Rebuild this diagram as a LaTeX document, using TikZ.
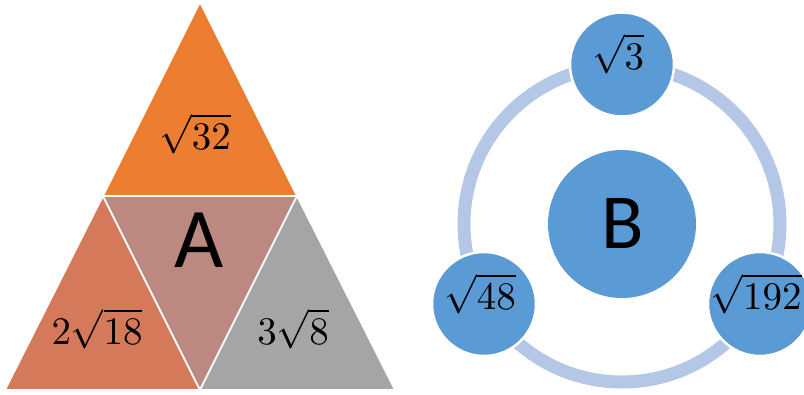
\documentclass[tikz,border=0pt]{standalone}
\usepackage{fontspec}
\newfontfamily\carlito{Carlito}
\definecolor{topor}{HTML}{ED7D31}
\definecolor{leftor}{HTML}{D47A5A}
\definecolor{midbr}{HTML}{BB8982}
\definecolor{rgray}{HTML}{A5A5A5}
\definecolor{cblue}{HTML}{5B9BD5}
\definecolor{ringblue}{HTML}{B4C7E7}
\tikzset{
  piece/.style={draw=white, line width=1.6pt, line join=miter},
  mlabel/.style={scale=3.9, inner sep=0pt},
  biglabel/.style={inner sep=0pt},
  smallcirc/.style={circle, fill=cblue, draw=white, line width=2.5pt, minimum size=104pt, inner sep=0pt},
  bigcirc/.style={circle, fill=cblue, minimum size=148pt, inner sep=0pt},
  ringstyle/.style={draw=ringblue, line width=13pt}
}
\begin{document}
\begin{tikzpicture}[x=1pt,y=-1pt]
\useasboundingbox (0,0) rectangle (804,394);
% triangle A
\coordinate (apex) at (200,2);
\coordinate (ml) at (103,196);
\coordinate (mr) at (297,196);
\coordinate (bl) at (5,390);
\coordinate (bm) at (200,390);
\coordinate (br) at (395,390);
\fill[topor, piece] (apex) -- (mr) -- (ml) -- cycle;
\fill[leftor, piece] (ml) -- (bm) -- (bl) -- cycle;
\fill[midbr, piece] (ml) -- (mr) -- (bm) -- cycle;
\fill[rgray, piece] (mr) -- (br) -- (bm) -- cycle;
\node[mlabel] (t32) at (195,134) {$\sqrt{32}$};
\node[mlabel] (t18) at (97,329) {$2\sqrt{18}$};
\node[mlabel] (t8) at (293,329) {$3\sqrt{8}$};
\node[biglabel, font=\carlito\fontsize{85}{85}\selectfont] (A) at (199,240) {A};
% ring B
\node[bigcirc] (B) at (622,224) {};
\draw[ringstyle] (B.center) circle[radius=158];
\node[smallcirc] (c3) at (622,64.5) {};
\node[smallcirc] (c48) at (484,304) {};
\node[smallcirc] (c192) at (760,304) {};
\node[biglabel, font=\carlito\fontsize{78}{78}\selectfont] (Bl) at (623,223) {B};
\node[mlabel] (l3) at (618,54) {$\sqrt{3}$};
\node[mlabel] (l48) at (480,294) {$\sqrt{48}$};
\node[mlabel] (l192) at (756,294) {$\sqrt{192}$};
\end{tikzpicture}
\end{document}
